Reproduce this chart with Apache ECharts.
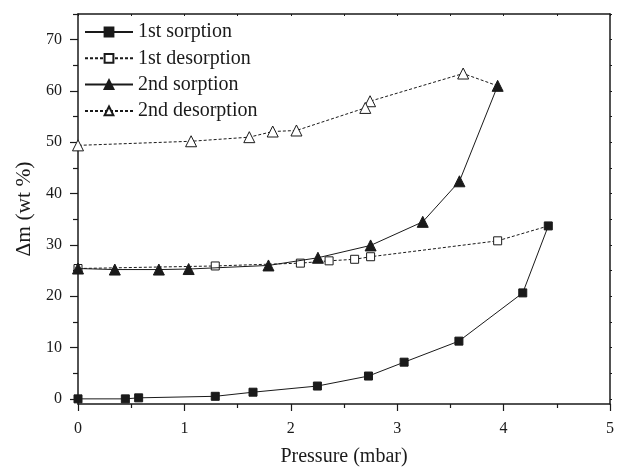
<!DOCTYPE html>
<html>
<head>
<meta charset="utf-8">
<script src="https://cdn.jsdelivr.net/npm/echarts@6/dist/echarts.min.js"></script>
<style>html,body{margin:0;padding:0;background:#fff;}#c{width:617px;height:472px;}</style>
</head>
<body>
<div id="c"></div>
<script>
const seriesNames = ['1st sorption', '1st desorption', '2nd sorption', '2nd desorption'];
const sorption1X = [0, 0.445, 0.57, 1.29, 1.645, 2.25, 2.73, 3.065, 3.58, 4.18, 4.42];
const sorption1Y = [0, 0, 0.2, 0.5, 1.3, 2.5, 4.45, 7.15, 11.25, 20.65, 33.7];
const desorption1X = [4.42, 3.944, 2.75, 2.6, 2.36, 2.09, 1.29, 0];
const desorption1Y = [33.7, 30.8, 27.7, 27.2, 26.9, 26.45, 25.9, 25.4];
const sorption2X = [0, 0.346, 0.76, 1.04, 1.79, 2.255, 2.75, 3.24, 3.585, 3.944];
const sorption2Y = [25.4, 25.2, 25.2, 25.3, 26.0, 27.5, 29.9, 34.5, 42.4, 61.0];
const desorption2X = [3.944, 3.62, 2.745, 2.70, 2.053, 1.83, 1.61, 1.063, 0];
const desorption2Y = [61.0, 63.4, 58.0, 56.7, 52.3, 52.1, 51.0, 50.2, 49.4];
const xTicks = [0, 1, 2, 3, 4, 5];
const yTicks = [0, 10, 20, 30, 40, 50, 60, 70];
const yMinorTicks = [5, 15, 25, 35, 45, 55, 65, 75];
const yAllTicks = [0, 5, 10, 15, 20, 25, 30, 35, 40, 45, 50, 55, 60, 65, 70, 75];

const FONT = 'Liberation Serif';
const INK = '#1a1a1a';

function pairs(xs, ys, hideFirst) {
  return xs.map((x, i) => {
    const p = { value: [x, ys[i]] };
    if (hideFirst && i === 0) p.symbol = 'none';
    return p;
  });
}

const chart = echarts.init(document.getElementById('c'), null, { renderer: 'canvas' });

const axisLine = { show: true, onZero: false, lineStyle: { color: INK, width: 1.5 } };

chart.setOption({
  backgroundColor: '#fff',
  animation: false,
  grid: { left: 78, right: 4, top: 14, bottom: 64, containLabel: false },
  legend: {
    orient: 'vertical',
    left: 79, top: 17,
    itemWidth: 48, itemHeight: 11, itemGap: 6.3,
    textStyle: { fontFamily: FONT, fontSize: 20, color: INK, lineHeight: 19 },
    data: seriesNames
  },
  xAxis: [
    {
      type: 'value', min: 0, max: 5, interval: 1, position: 'bottom',
      name: 'Pressure (mbar)', nameLocation: 'middle', nameGap: 43,
      nameTextStyle: { fontFamily: FONT, fontSize: 20, color: INK },
      axisLine: axisLine,
      axisTick: { show: true, inside: false, length: 7, lineStyle: { color: INK, width: 1.2 } },
      minorTick: { show: true, splitNumber: 2, length: 4, lineStyle: { color: INK, width: 1.2 } },
      axisLabel: { fontFamily: FONT, fontSize: 16, color: INK, margin: 17, customValues: xTicks },
      splitLine: { show: false }
    },
    {
      type: 'value', min: 0, max: 5, interval: 0.5, position: 'top',
      axisLine: axisLine,
      axisTick: { show: true, inside: true, length: 2, lineStyle: { color: INK, width: 1 } },
      axisLabel: { show: false },
      splitLine: { show: false }
    }
  ],
  yAxis: [
    {
      type: 'value', min: -1, max: 75, position: 'left',
      name: 'Δm (wt %)', nameLocation: 'middle', nameGap: 42,
      nameTextStyle: { fontFamily: FONT, fontSize: 21.5, color: INK },
      axisLine: axisLine,
      axisTick: { show: true, inside: false, length: 8, customValues: yTicks, lineStyle: { color: INK, width: 1.2 } },
      axisLabel: { fontFamily: FONT, fontSize: 16, color: INK, margin: 16, customValues: yTicks },
      splitLine: { show: false }
    },
    {
      type: 'value', min: -1, max: 75, position: 'left',
      axisLine: { show: false },
      axisTick: { show: true, inside: false, length: 5, customValues: yMinorTicks, lineStyle: { color: INK, width: 1.2 } },
      axisLabel: { show: false },
      splitLine: { show: false }
    },
    {
      type: 'value', min: -1, max: 75, position: 'right',
      axisLine: axisLine,
      axisTick: { show: true, inside: false, length: 2, customValues: yAllTicks, lineStyle: { color: INK, width: 1 } },
      axisLabel: { show: false },
      splitLine: { show: false }
    }
  ],
  series: [
    {
      name: seriesNames[0], type: 'line', xAxisIndex: 0, yAxisIndex: 0, z: 4,
      data: pairs(sorption1X, sorption1Y, false),
      symbol: 'rect', symbolSize: 8, showAllSymbol: true,
      lineStyle: { color: INK, width: 1, type: 'solid' },
      itemStyle: { color: INK, borderColor: INK, borderWidth: 1 }
    },
    {
      name: seriesNames[1], type: 'line', xAxisIndex: 0, yAxisIndex: 0, z: 3,
      data: pairs(desorption1X, desorption1Y, true),
      symbol: 'rect', symbolSize: 8, showAllSymbol: true,
      lineStyle: { color: INK, width: 1, type: [3, 2] },
      itemStyle: { color: '#fff', borderColor: INK, borderWidth: 1 }
    },
    {
      name: seriesNames[2], type: 'line', xAxisIndex: 0, yAxisIndex: 0, z: 4,
      data: pairs(sorption2X, sorption2Y, false),
      symbol: 'triangle', symbolSize: 11, showAllSymbol: true,
      lineStyle: { color: INK, width: 1, type: 'solid' },
      itemStyle: { color: INK, borderColor: INK, borderWidth: 1 }
    },
    {
      name: seriesNames[3], type: 'line', xAxisIndex: 0, yAxisIndex: 0, z: 3,
      data: pairs(desorption2X, desorption2Y, true),
      symbol: 'triangle', symbolSize: 11, showAllSymbol: true,
      lineStyle: { color: INK, width: 1, type: [3, 2] },
      itemStyle: { color: '#fff', borderColor: INK, borderWidth: 1 }
    }
  ]
});
</script>
</body>
</html>
